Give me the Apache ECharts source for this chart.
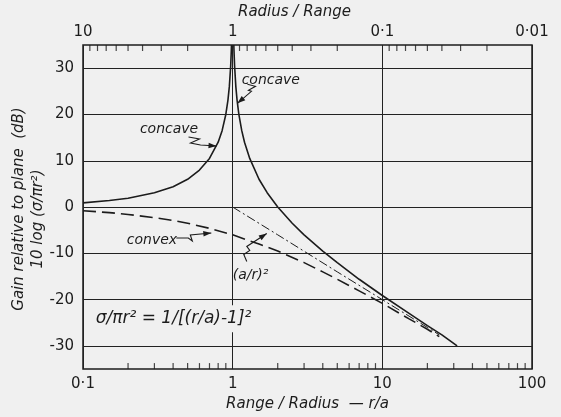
<!DOCTYPE html>
<html><head><meta charset="utf-8">
<script src="https://cdn.jsdelivr.net/npm/echarts@6/dist/echarts.min.js"></script>
<style>html,body{margin:0;padding:0;background:#f0f0f0}#c{width:561px;height:417px}</style>
</head><body><div id="c"></div>
<script>
// ---- data ----
const concaveLeftX  = [0.1, 0.15, 0.2, 0.3, 0.4, 0.5, 0.6, 0.7, 0.8, 0.85, 0.9, 0.93, 0.95, 0.97, 0.98, 0.982];
const concaveLeftY  = [0.9, 1.4, 1.9, 3.1, 4.4, 6.0, 8.0, 10.5, 14.0, 16.5, 20.0, 23.1, 26.0, 30.5, 34.0, 35.0];
const concaveRightX = [1.018, 1.02, 1.03, 1.05, 1.07, 1.1, 1.15, 1.2, 1.3, 1.5, 1.7, 2, 2.5, 3, 4, 5, 7, 10, 15, 20, 25, 31.6];
const concaveRightY = [35.0, 34.0, 30.5, 26.0, 23.1, 20.0, 16.5, 14.0, 10.5, 6.0, 3.1, 0.0, -3.5, -6.0, -9.5, -12.0, -15.6, -19.1, -22.9, -25.6, -27.6, -30.0];
const convexX = [0.1, 0.15, 0.2, 0.3, 0.4, 0.5, 0.7, 1, 1.5, 2, 3, 4, 5, 7, 10, 15, 20, 24];
const convexY = [-0.8, -1.2, -1.6, -2.3, -2.9, -3.5, -4.6, -6.0, -8.0, -9.5, -12.0, -14.0, -15.6, -18.1, -20.8, -24.1, -26.4, -28.0];
const planeX = [1, 2, 5, 10, 20, 24];
const planeY = [0, -6.0, -14.0, -20.0, -26.0, -27.6];
const gridYValues = [-30, -20, -10, 0, 10, 20, 30];
const bottomMinorTicks = [0.2,0.3,0.4,0.5,0.6,0.7,0.8,0.9, 2,3,4,5,6,7,8,9, 20,30,40,50,60,70,80,90];
const topMinorTicks = [1/9,1/8,1/7,1/6,1/5,1/4,1/3,1/2, 10/9,10/8,10/7,10/6,10/5,10/4,10/3,10/2, 100/9,100/8,100/7,100/6,100/5,100/4,100/3,100/2];
const bottomTickLabels = {'-1':'0·1','0':'1','1':'10','2':'100'};
const topTickLabels = {'-1':'10','0':'1','1':'0·1','2':'0·01'};
// annotations: text anchor & arrow tip in data coordinates
const annotationTexts = ['concave', 'concave', 'convex', '(a/r)²'];
const annotationTextAt = [[1.148, 27.4], [0.24, 16.7], [0.196, -7.3], [1.0, -14.7]];
const annotationTips = [[1.076, 22.4], [0.78, 13.2], [0.72, -5.6], [1.69, -5.7]];
const formulaText = 'σ/πr² = 1/[(r/a)-1]²';
const formulaAt = [0.118, -24.1];

const INK = '#1c1c1c';
const FONT = 'DejaVu Sans';
const zip = (xs, ys) => xs.map((x, i) => [x, ys[i]]);
const lg = v => Math.round(Math.log10(v));

const chart = echarts.init(document.getElementById('c'));
const lineBase = {type: 'line', showSymbol: false, silent: true, xAxisIndex: 0, yAxisIndex: 0};
const yNames = [
  {type: 'text', x: 19, y: 209, rotation: Math.PI / 2, z: 100,
   style: {text: 'Gain relative to plane  (dB)', font: 'italic 15px "DejaVu Sans"', fill: INK, align: 'center', verticalAlign: 'middle'}},
  {type: 'text', x: 38, y: 219, rotation: Math.PI / 2, z: 100,
   style: {text: '10 log (σ/πr²)', font: 'italic 15px "DejaVu Sans"', fill: INK, align: 'center', verticalAlign: 'middle'}}
];

chart.setOption({
  backgroundColor: '#f0f0f0',
  animation: false,
  grid: {left: 83, right: 29, top: 45, bottom: 44, show: true, borderColor: INK, borderWidth: 1.5},
  xAxis: [
    {type: 'log', logBase: 10, min: 0.1, max: 100, splitNumber: 3, position: 'bottom',
     axisLine: {show: false}, axisTick: {show: false},
     splitLine: {show: true, lineStyle: {color: '#222', width: 1}},
     axisLabel: {formatter: v => bottomTickLabels[lg(v)] || '', fontFamily: FONT, fontSize: 15, color: INK, margin: 8},
     name: 'Range / Radius  — r/a', nameLocation: 'middle', nameGap: 27,
     nameTextStyle: {fontFamily: FONT, fontStyle: 'italic', fontSize: 15, color: INK}},
    {type: 'log', logBase: 10, min: 0.1, max: 100, splitNumber: 3, position: 'top',
     axisLine: {show: false}, axisTick: {show: false}, splitLine: {show: false},
     axisLabel: {formatter: v => topTickLabels[lg(v)] || '', fontFamily: FONT, fontSize: 15, color: INK, margin: 5},
     name: 'Radius / Range', nameLocation: 'middle', nameGap: 24,
     nameTextStyle: {fontFamily: FONT, fontStyle: 'italic', fontSize: 15, color: INK, padding: [0, 26, 0, 0]}}
  ],
  yAxis: {type: 'value', min: -35, max: 35, interval: 5,
    axisLine: {show: false}, axisTick: {show: false}, splitLine: {show: false},
    axisLabel: {formatter: v => (v % 10 === 0 ? String(v) : ''), fontFamily: FONT, fontSize: 15, color: INK, margin: 9}},
  series: [
    Object.assign({}, lineBase, {name: 'concave-left', data: zip(concaveLeftX, concaveLeftY),
      lineStyle: {color: INK, width: 1.6},
      markLine: {silent: true, symbol: ['none', 'none'], label: {show: false}, animation: false,
        lineStyle: {color: '#222', width: 1, type: 'solid'},
        data: gridYValues.map(v => ({yAxis: v}))}}),
    Object.assign({}, lineBase, {name: 'concave-right', data: zip(concaveRightX, concaveRightY),
      lineStyle: {color: INK, width: 1.6}}),
    Object.assign({}, lineBase, {name: 'convex', data: zip(convexX, convexY),
      lineStyle: {color: INK, width: 1.6, type: [13, 6]}}),
    Object.assign({}, lineBase, {name: 'plane', data: zip(planeX, planeY),
      lineStyle: {color: INK, width: 1, type: [9, 3, 2, 3]}}),
    {type: 'scatter', silent: true, clip: false, data: bottomMinorTicks.map(x => [x, -35]),
     symbol: 'rect', symbolSize: [1.2, 6], symbolOffset: [0, -3], itemStyle: {color: INK}},
    {type: 'scatter', silent: true, clip: false, data: topMinorTicks.map(x => [x, 35]),
     symbol: 'rect', symbolSize: [1.2, 6], symbolOffset: [0, 3], itemStyle: {color: INK}}
  ]
});

// arrow shapes: pixel offsets relative to the arrow tip (last point is the tip)
const arrowShapes = [
  [[10, -19], [18, -17], [11, -13], [14, -12], [0, 0]],
  [[-28, -9], [-17, -7], [-26, -3], [-16, -1], [0, 0]],
  [[-35, 5], [-23, 5], [-19, 8], [-21, 2], [0, 0]],
  [[-20, 28], [-23, 21], [-17, 17], [-20, 13], [0, 0]]
];
const toPx = p => chart.convertToPixel({xAxisIndex: 0, yAxisIndex: 0}, p);
const extra = [];
annotationTexts.forEach((t, i) => {
  const a = toPx(annotationTextAt[i]);
  extra.push({type: 'text', x: a[0], y: a[1], z: 100,
    style: {text: t, font: 'italic 14px "DejaVu Sans"', fill: INK, align: 'left', verticalAlign: 'middle'}});
  const tip = toPx(annotationTips[i]);
  const pts = arrowShapes[i].map(o => [tip[0] + o[0], tip[1] + o[1]]);
  extra.push({type: 'polyline', z: 100, shape: {points: pts}, style: {stroke: INK, lineWidth: 1.1, fill: null}});
  const q = pts[pts.length - 2], p = pts[pts.length - 1];
  const dx = p[0] - q[0], dy = p[1] - q[1], L = Math.hypot(dx, dy);
  const ux = dx / L, uy = dy / L, nx = -uy, ny = ux;
  extra.push({type: 'polygon', z: 100, shape: {points: [p,
    [p[0] - ux * 8 + nx * 2.8, p[1] - uy * 8 + ny * 2.8],
    [p[0] - ux * 8 - nx * 2.8, p[1] - uy * 8 - ny * 2.8]]}, style: {fill: INK}});
});
const f = toPx(formulaAt);
extra.push({type: 'text', x: f[0], y: f[1], z: 100,
  style: {text: formulaText, font: 'italic 17px "DejaVu Sans"', fill: INK, align: 'left', verticalAlign: 'middle',
    backgroundColor: '#f0f0f0', padding: [5, 2, 5, 2]}});
chart.setOption({graphic: yNames.concat(extra)});
</script></body></html>
